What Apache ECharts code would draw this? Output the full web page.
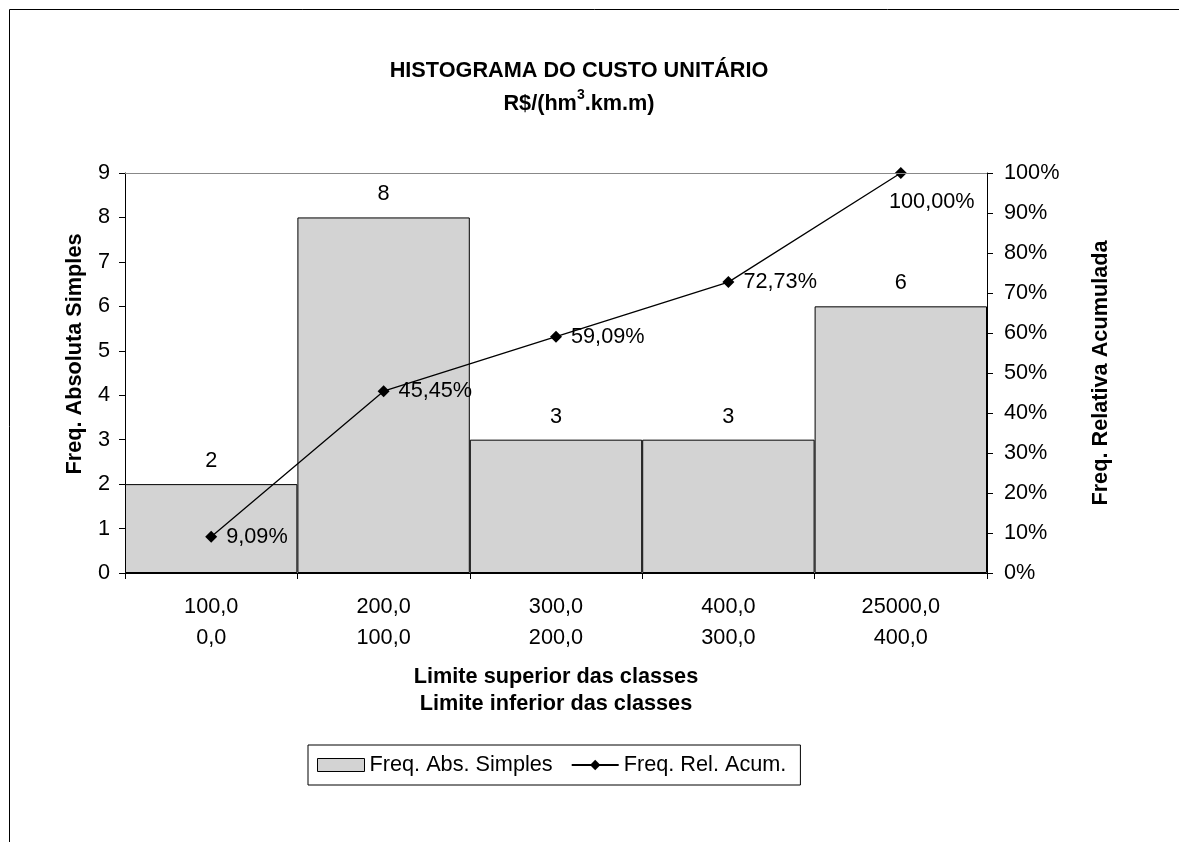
<!DOCTYPE html>
<html><head><meta charset="utf-8">
<script src="https://cdn.jsdelivr.net/npm/echarts@6/dist/echarts.min.js"></script>
<style>html,body{margin:0;padding:0;background:#fff}#c{width:1179px;height:842px}</style>
</head><body><div id="c"></div>
<script>
const categories = ['100,0\n0,0', '200,0\n100,0', '300,0\n200,0', '400,0\n300,0', '25000,0\n400,0'];
const freqAbs = [2, 8, 3, 3, 6];
const freqRelAcum = [0.0909, 0.4545, 0.5909, 0.7273, 1.0];
const relLabels = ['9,09%', '45,45%', '59,09%', '72,73%', '100,00%'];
const leftTicks = [0,1,2,3,4,5,6,7,8,9];
const rightTickLabels = ['0%','10%','20%','30%','40%','50%','60%','70%','80%','90%','100%'];

const FONT = 'Liberation Sans, Arial, sans-serif';
const FS = 21.7;
const chart = echarts.init(document.getElementById('c'));
chart.setOption({
  animation: false,
  backgroundColor: '#fff',
  textStyle: { fontFamily: FONT, color: '#000' },
  graphic: [{
    type: 'rect', shape: { x: 9.5, y: 9.5, width: 1250, height: 900 },
    style: { fill: 'none', stroke: '#000', lineWidth: 1 }, silent: true, z: -1
  }],
  title: {
    text: 'HISTOGRAMA DO CUSTO UNITÁRIO\n{b|R$/(hm}{s|3}{b|.km.m)}',
    left: 574, top: 50, textAlign: 'center',
    textStyle: {
      fontFamily: FONT, fontSize: FS, fontWeight: 'bold', color: '#000', lineHeight: 33,
      rich: {
        b: { fontFamily: FONT, fontSize: FS, fontWeight: 'bold', color: '#000' },
        s: { fontFamily: FONT, fontSize: 14, fontWeight: 'bold', color: '#000', verticalAlign: 'top', padding: [0,0,9,0] }
      }
    }
  },
  legend: {
    left: 308, top: 745,
    padding: [9, 14, 9, 9],
    borderColor: '#000', borderWidth: 1,
    itemGap: 18, itemWidth: 47, itemHeight: 13,
    textStyle: { fontFamily: FONT, fontSize: FS, color: '#000' },
    data: [
      { name: 'Freq. Abs. Simples', icon: 'rect', itemStyle: { color: '#d3d3d3', borderColor: '#000', borderWidth: 1 } },
      { name: 'Freq. Rel. Acum.' }
    ]
  },
  grid: { left: 125, right: 192, top: 173, bottom: 269 },
  xAxis: {
    type: 'category', data: categories,
    name: 'Limite superior das classes\nLimite inferior das classes',
    nameLocation: 'middle', nameGap: 91,
    nameTextStyle: { fontFamily: FONT, fontSize: FS, fontWeight: 'bold', color: '#000', lineHeight: 27 },
    axisLine: { lineStyle: { color: '#000', width: 1 } },
    axisTick: { show: true, alignWithLabel: false, length: 6, lineStyle: { color: '#000' } },
    axisLabel: { fontFamily: FONT, fontSize: FS, color: '#000', lineHeight: 31, margin: 19 }
  },
  yAxis: [{
    type: 'value', min: 0, max: 9, interval: 1,
    name: 'Freq. Absoluta Simples', nameLocation: 'middle', nameGap: 39, nameRotate: 90,
    nameTextStyle: { fontFamily: FONT, fontSize: FS, fontWeight: 'bold', color: '#000', padding: [0, 0, 0, 38] },
    axisLine: { show: true, lineStyle: { color: '#000' } },
    axisTick: { show: true, length: 6, lineStyle: { color: '#000' } },
    axisLabel: { fontFamily: FONT, fontSize: FS, color: '#000', margin: 15,
      formatter: v => String(leftTicks[v]) },
    splitLine: { show: false }
  }, {
    type: 'value', min: 0, max: 1, interval: 0.1,
    name: 'Freq. Relativa Acumulada', nameLocation: 'middle', nameGap: 103, nameRotate: 90,
    nameTextStyle: { fontFamily: FONT, fontSize: FS, fontWeight: 'bold', color: '#000' },
    axisLine: { show: true, lineStyle: { color: '#000' } },
    axisTick: { show: true, length: 6, lineStyle: { color: '#000' } },
    axisLabel: { fontFamily: FONT, fontSize: FS, color: '#000', margin: 17,
      formatter: v => rightTickLabels[Math.round(v * 10)] },
    splitLine: { show: false }
  }],
  series: [{
    name: 'Freq. Abs. Simples', type: 'bar', yAxisIndex: 0, data: freqAbs,
    barCategoryGap: 0,
    itemStyle: { color: '#d3d3d3', borderColor: '#000', borderWidth: 1 },
    label: { show: true, position: 'top', distance: 12, fontFamily: FONT, fontSize: FS, color: '#000' },
    markLine: {
      silent: true, symbol: 'none', label: { show: false },
      lineStyle: { color: '#888', type: 'solid', width: 1 },
      data: [{ yAxis: 9 }]
    }
  }, {
    name: 'Freq. Rel. Acum.', type: 'line', yAxisIndex: 1,
    data: freqRelAcum.map((v, i) => ({
      value: v,
      label: i === 4
        ? { show: true, position: 'bottom', distance: 12, offset: [31, 0], formatter: relLabels[i] }
        : { show: true, position: 'right', formatter: relLabels[i] }
    })),
    symbol: 'diamond', symbolSize: 12,
    itemStyle: { color: '#000' },
    lineStyle: { color: '#000', width: 1.3 },
    label: { fontFamily: FONT, fontSize: FS, color: '#000', distance: 9 }
  }]
});
</script></body></html>
